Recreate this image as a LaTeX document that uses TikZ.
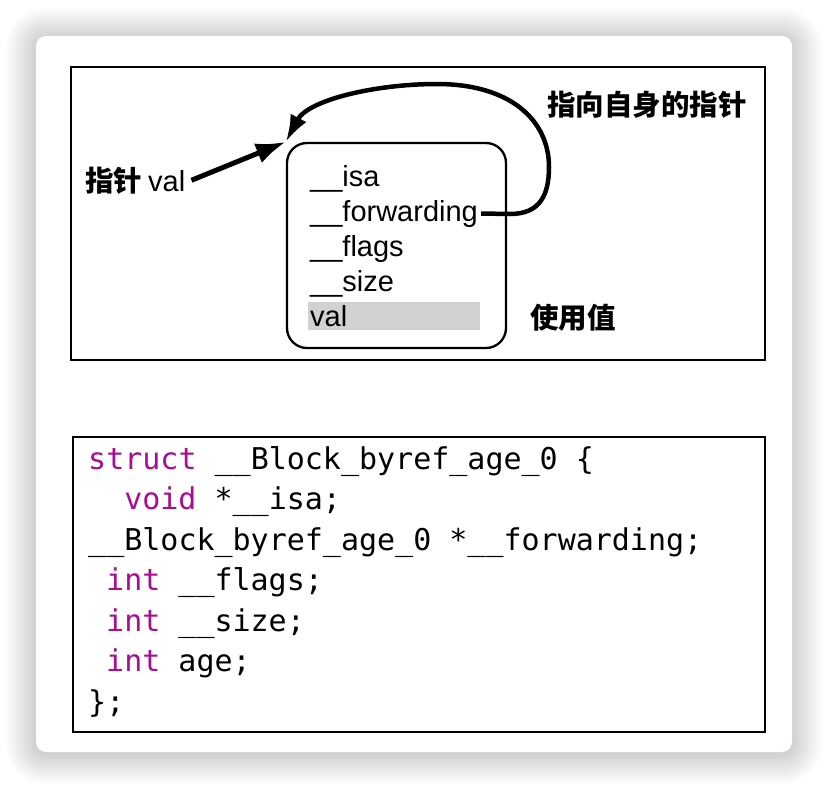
\documentclass[tikz,border=0pt]{standalone}
\usepackage{fontspec}
\setmainfont{Liberation Sans}
\newfontfamily\cjk{Noto Sans CJK SC}
\newfontfamily\codefont{DejaVu Sans Mono}
\usetikzlibrary{arrows.meta}
\definecolor{kw}{RGB}{170,13,145}
\definecolor{hl}{RGB}{210,210,210}
\begin{document}
\begin{tikzpicture}[x=1pt,y=-1pt,
  txt/.style={anchor=base west, inner sep=0pt, font=\fontsize{29}{34}\selectfont},
  cjklbl/.style={anchor=base west, inner sep=0pt, font=\fontsize{28.5}{34}\selectfont\cjk\bfseries},
  code/.style={anchor=base west, inner sep=0pt, font=\fontsize{30}{36}\selectfont\codefont},
  frame/.style={draw=black, line width=2.5pt},
  ptr/.style={line width=5pt, -{Latex[length=30pt,width=21pt]}},
  selfptr/.style={line width=4.5pt, -{Latex[length=27pt,width=18pt]}}
]
\useasboundingbox (0,0) rectangle (828,788);
\fill[white] (0,0) rectangle (828,788);
% card shadow
\foreach \i in {1,...,15}{
  \pgfmathsetmacro{\r}{10+2*\i}
  \fill[black, opacity=0.011, rounded corners=\r pt] (36-2*\i,38-2*\i) rectangle (792+2*\i,754+2*\i);
}
\fill[white, rounded corners=10pt] (36,36) rectangle (792,752);
% top frame
\draw[frame] (71,67) rectangle (765,360);
% bottom frame
\draw[frame] (73,437) rectangle (765,732);
% inner record box
\node[draw, line width=2.3pt, rounded corners=20pt, minimum width=219pt, minimum height=205pt] (rec) at (396.5,245.5) {};
\fill[hl] (308,302) rectangle (480,330);
\node[txt] (isa) at (310,186) {\_\_isa};
\node[txt] (fwd) at (310,221) {\_\_forwarding};
\node[txt] (flg) at (310,256) {\_\_flags};
\node[txt] (siz) at (310,291) {\_\_size};
\node[txt] (val) at (310,326) {val};
% labels
\node[anchor=base west, inner sep=0pt] (lbl) at (85,191) {{\fontsize{28.5}{34}\selectfont\cjk\bfseries 指针}\hspace{6pt}{\fontsize{29}{34}\selectfont val}};
\node[cjklbl] (self) at (547,115) {指向自身的指针};
\node[cjklbl] (use) at (530,328) {使用值};
% arrows
\draw[ptr] ([xshift=6pt]lbl.east) -- (rec.north west);
\draw[selfptr] ([xshift=3pt]fwd.east) -- (510,214)
  .. controls (540,214) and (549,195) .. (549,167)
  .. controls (549,120) and (510,84) .. (437,84)
  .. controls (375,84) and (308,100) .. (rec.north west);
% code
\node[code] (c1) at (88,469) {\textcolor{kw}{struct} \_\_Block\_byref\_age\_0 \{};
\node[code] (c2) at (124.1,509.5) {\textcolor{kw}{void} *\_\_isa;};
\node[code] (c3) at (88,550) {\_\_Block\_byref\_age\_0 *\_\_forwarding;};
\node[code] (c4) at (106,590.5) {\textcolor{kw}{int} \_\_flags;};
\node[code] (c5) at (106,631) {\textcolor{kw}{int} \_\_size;};
\node[code] (c6) at (106,671.5) {\textcolor{kw}{int} age;};
\node[code] (c7) at (88,712) {\};};
\end{tikzpicture}
\end{document}
